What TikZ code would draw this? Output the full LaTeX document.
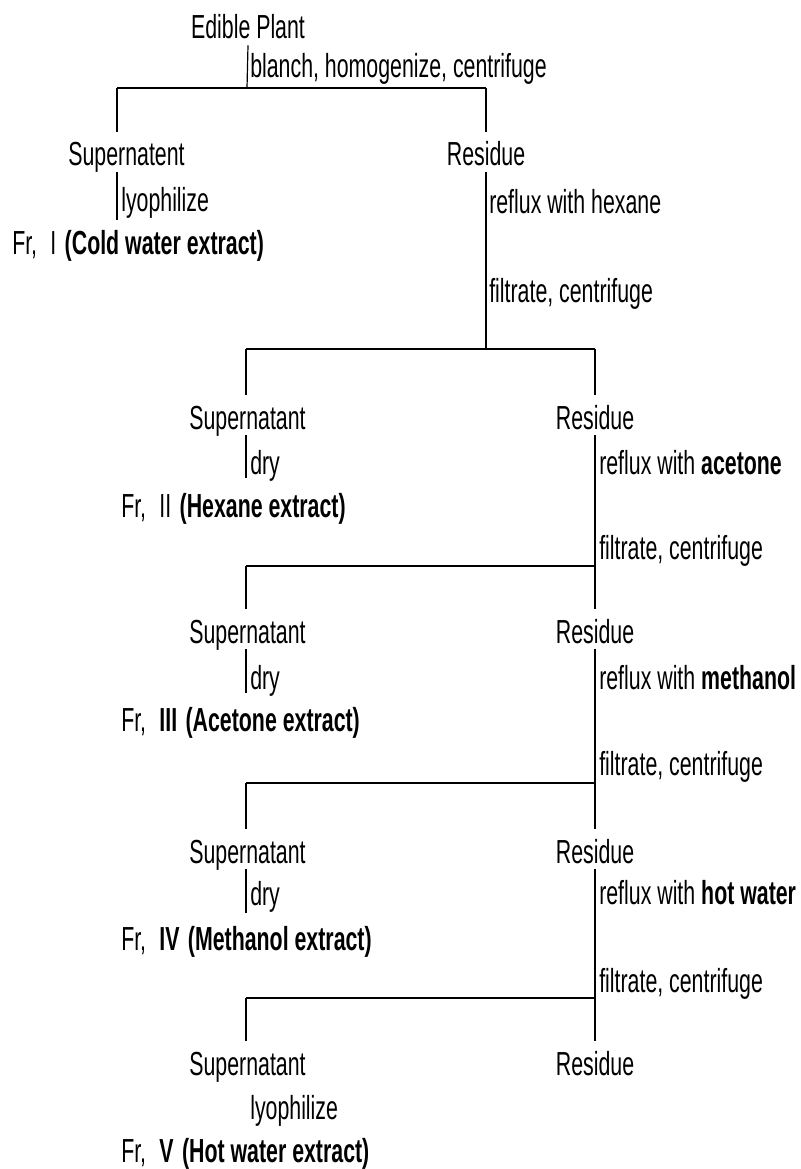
\documentclass[tikz,border=0pt]{standalone}
\usepackage{fontspec}
\setmainfont{Liberation Sans}[FakeStretch=0.64]
\begin{document}
\begin{tikzpicture}[x=0.75pt,y=-0.75pt,
  txt/.style={font=\fontsize{25}{29}\selectfont, inner sep=0pt, text height=16.5pt, text depth=4.5pt},
  lbl/.style={txt, anchor=base},
  lft/.style={txt, anchor=base west},
  vl/.style={line width=0.9pt},
  hl/.style={line width=1.8pt},
  tonode/.style={vl, shorten >=8.5pt}]
\useasboundingbox (0,0) rectangle (800,1169);
% ---- level 0
\node[lbl] (ep) at (248,39) {Edible Plant};
\node[lft] (t0) at (250,78) {blanch, homogenize, centrifuge};
\coordinate (h1) at (247,88);
\coordinate (h1l) at (117,88);
\coordinate (h1r) at (486,88);
% ---- level 1
\node[lbl] (s1) at (126.5,166) {Supernatent};
\node[lbl] (r1) at (486,166) {Residue};
\node[lft] (p1) at (121,212) {lyophilize};
\coordinate (e1) at (117,220);
\node[lft] (f1) at (12,255) {Fr,\hspace{0.4em}I\hspace{0.25em}\textbf{(Cold water extract)}};
\node[lft] (t1a) at (489,214) {reflux with hexane};
\node[lft] (t1b) at (489,302) {filtrate, centrifuge};
\coordinate (h2) at (486,349);
\coordinate (h2l) at (246,349);
\coordinate (h2r) at (595,349);
% ---- level 2
\node[lbl] (s2) at (247.5,429) {Supernatant};
\node[lbl] (r2) at (595,429) {Residue};
\node[lft] (p2) at (250,474) {dry};
\coordinate (e2) at (246,478);
\node[lft] (f2) at (121,517) {Fr,\hspace{0.4em}II\hspace{0.25em}\textbf{(Hexane extract)}};
\node[lft] (t2a) at (599,474) {reflux with \textbf{acetone}};
\node[lft] (t2b) at (599,559) {filtrate, centrifuge};
\coordinate (h3l) at (246,566);
\coordinate (h3r) at (595,566);
% ---- level 3
\node[lbl] (s3) at (247.5,643) {Supernatant};
\node[lbl] (r3) at (595,643) {Residue};
\node[lft] (p3) at (250,689) {dry};
\coordinate (e3) at (246,693);
\node[lft] (f3) at (121,731) {Fr,\hspace{0.4em}\textbf{III}\hspace{0.25em}\textbf{(Acetone extract)}};
\node[lft] (t3a) at (599,689) {reflux with \textbf{methanol}};
\node[lft] (t3b) at (599,775) {filtrate, centrifuge};
\coordinate (h4l) at (246,783);
\coordinate (h4r) at (595,783);
% ---- level 4
\node[lbl] (s4) at (247.5,863) {Supernatant};
\node[lbl] (r4) at (595,863) {Residue};
\node[lft] (p4) at (250,905) {dry};
\coordinate (e4) at (246,913);
\node[lft] (f4) at (121,950) {Fr,\hspace{0.4em}\textbf{IV}\hspace{0.25em}\textbf{(Methanol extract)}};
\node[lft] (t4a) at (599,904) {reflux with \textbf{hot water}};
\node[lft] (t4b) at (599,992) {filtrate, centrifuge};
\coordinate (h5l) at (246,998);
\coordinate (h5r) at (595,998);
% ---- level 5
\node[lbl] (s5) at (247.5,1075) {Supernatant};
\node[lbl] (r5) at (595,1075) {Residue};
\node[lft] (p5) at (250,1119) {lyophilize};
\node[lft] (f5) at (121,1162) {Fr,\hspace{0.4em}\textbf{V}\hspace{0.25em}\textbf{(Hot water extract)}};
% ---- connectors
\draw[vl] (ep.south) -- (h1);
\draw[hl] (h1l) -- (h1r);
\draw[tonode] (h1l) -- (h1l |- s1.north);
\draw[tonode] (h1r) -- (r1.north);
\draw[vl] (h1l |- s1.south) -- (e1);
\draw[vl] (r1.south) -- (h2);
\draw[hl] (h2l) -- (h2r);
\draw[tonode] (h2l) -- (h2l |- s2.north);
\draw[tonode] (h2r) -- (r2.north);
\draw[vl] (h2l |- s2.south) -- (e2);
\draw[tonode] (r2.south) -- (r3.north);
\draw[hl] (h3l) -- (h3r);
\draw[tonode] (h3l) -- (h3l |- s3.north);
\draw[vl] (h3l |- s3.south) -- (e3);
\draw[tonode] (r3.south) -- (r4.north);
\draw[hl] (h4l) -- (h4r);
\draw[tonode] (h4l) -- (h4l |- s4.north);
\draw[vl] (h4l |- s4.south) -- (e4);
\draw[tonode] (r4.south) -- (r5.north);
\draw[hl] (h5l) -- (h5r);
\draw[tonode] (h5l) -- (h5l |- s5.north);
\end{tikzpicture}
\end{document}
